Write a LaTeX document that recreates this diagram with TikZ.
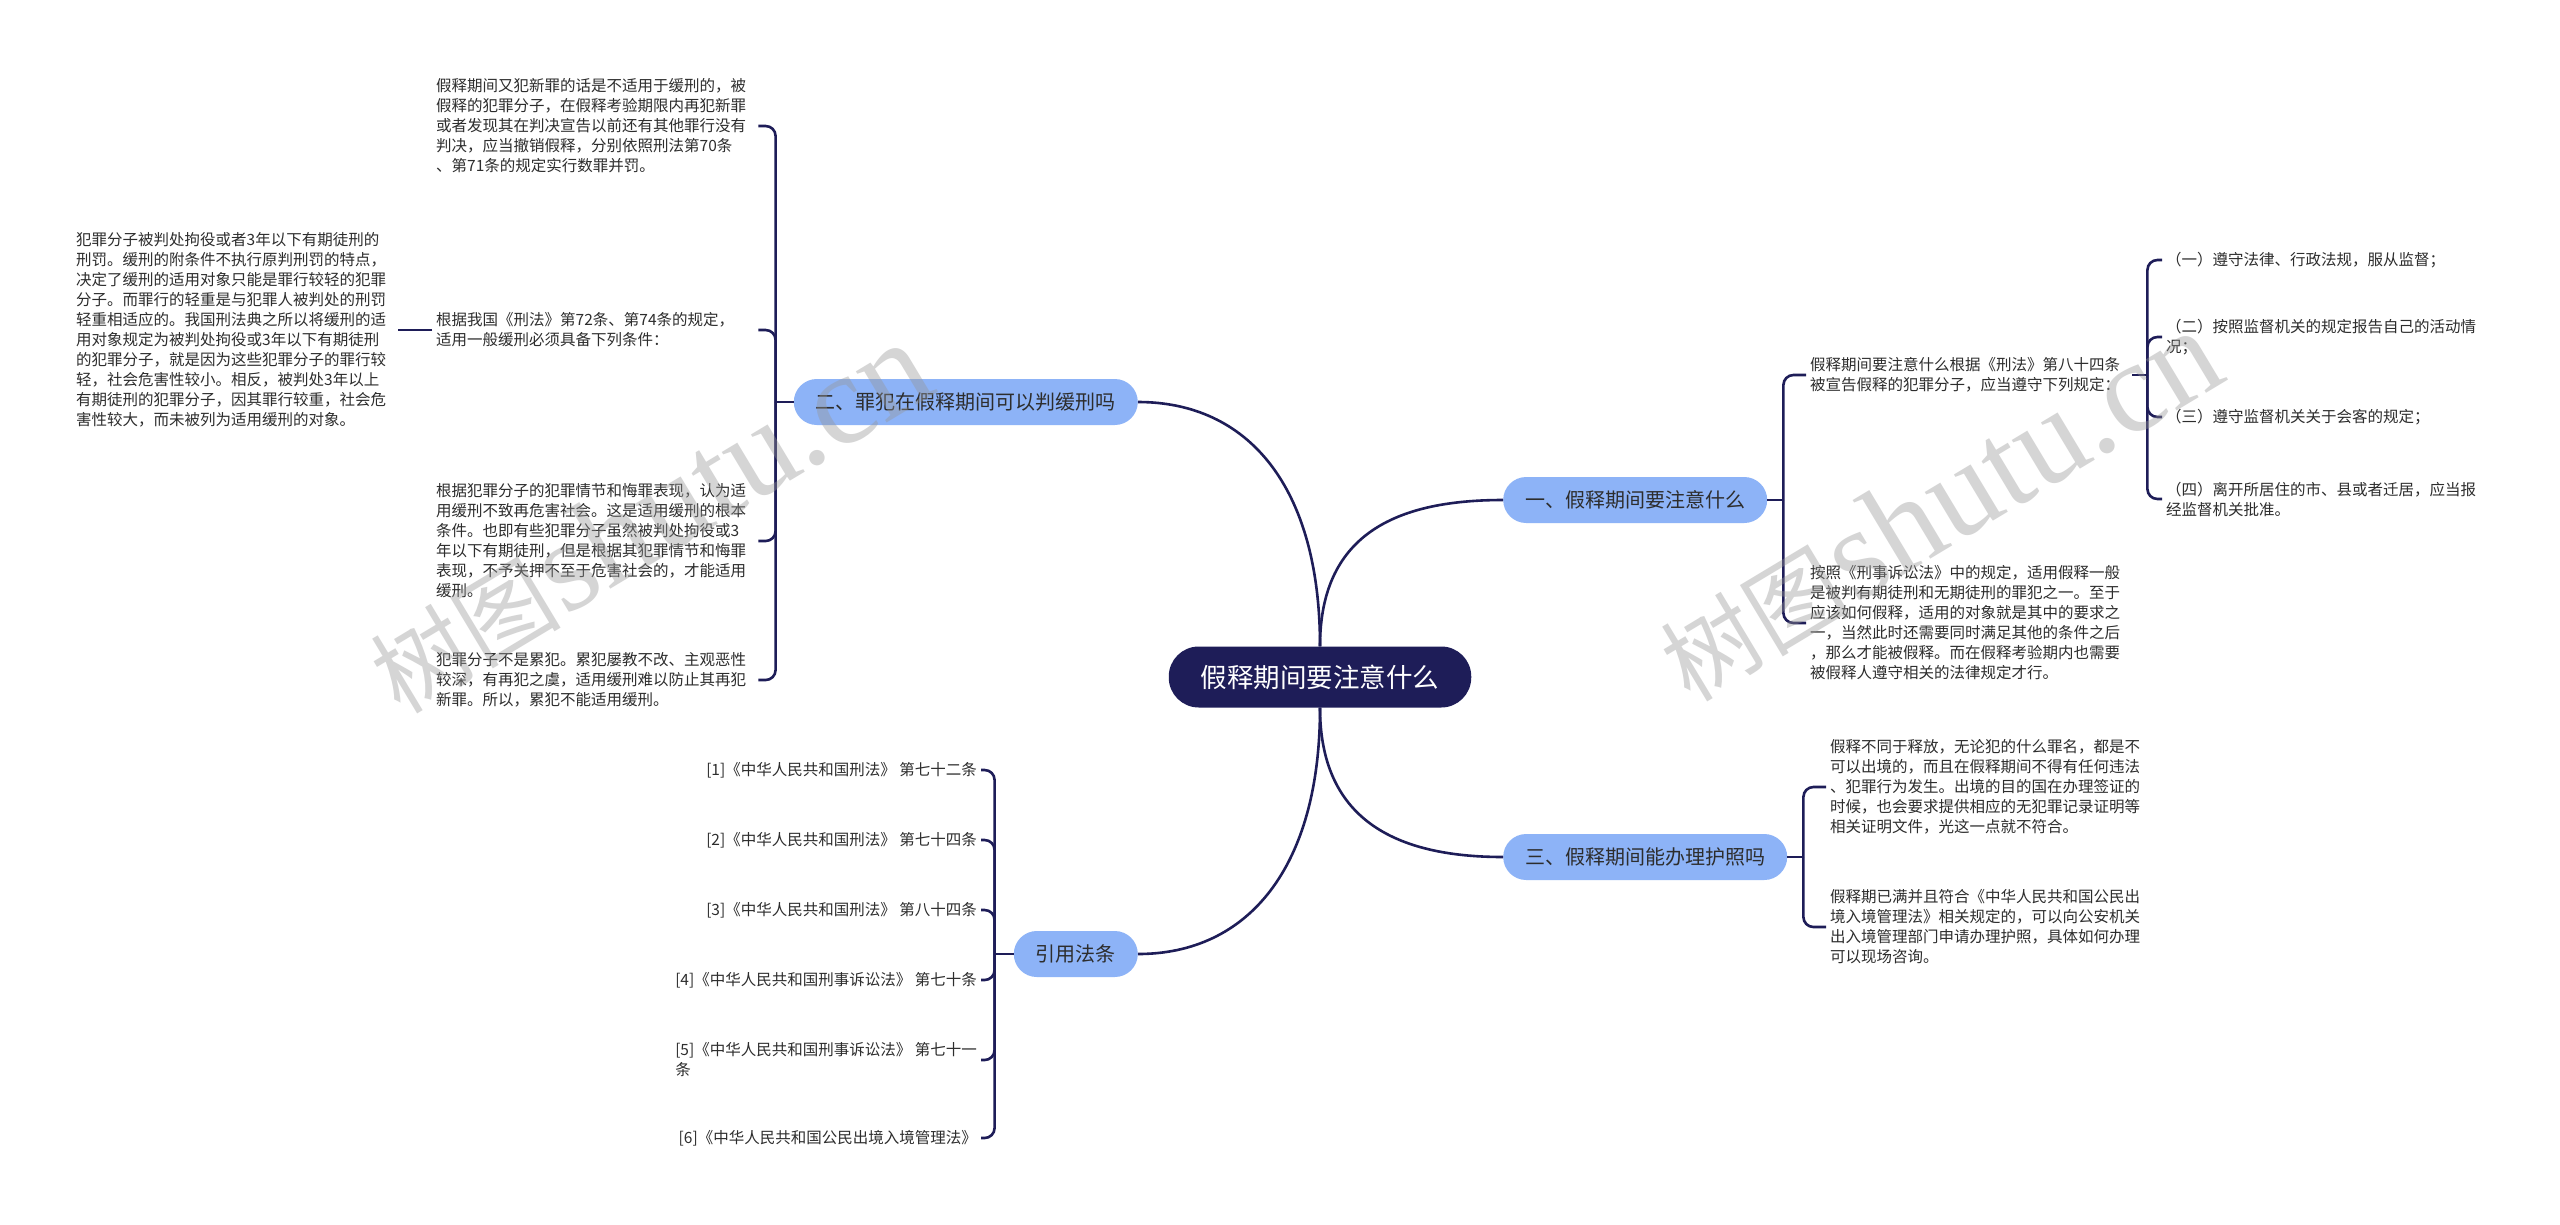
\documentclass[tikz,border=0pt]{standalone}
\usepackage{fontspec}
\setmainfont{Noto Sans CJK SC}
\newfontfamily\wmserif{Liberation Serif}
\usepackage{tikz}
\usetikzlibrary{positioning}
\definecolor{RootNavy}{RGB}{30,29,88}
\definecolor{PillBlue}{RGB}{141,179,247}
\definecolor{TextGray}{RGB}{45,45,45}
\definecolor{MarkGray}{RGB}{150,150,150}

\begin{document}
\begin{tikzpicture}[x=1pt, y=-1pt,
	rootnode/.style={fill=RootNavy, text=white, rounded corners=30pt, minimum height=61pt, inner xsep=32pt, font=\fontsize{26.5}{30}\selectfont},
	topic/.style={fill=PillBlue, text=TextGray, rounded corners=23pt, minimum height=46pt, inner xsep=22pt, font=\fontsize{20}{24}\selectfont},
	leaf/.style={text=TextGray, align=left, inner sep=4pt, font=\fontsize{15.5}{20}\selectfont},
	wideleaf/.style={leaf, text width=318pt},
	link/.style={draw=RootNavy, line width=2.6pt},
	brace/.style={link, rounded corners=10pt},
	watermark/.style={text=MarkGray, text opacity=0.4, rotate=31}
]
	\path[use as bounding box, fill=white] (0,0) rectangle (2560,1224);

	\node[rootnode] (root) at (1320,677) {假释期间要注意什么};

	\node[topic, anchor=east] (law2) at (1138,402) {二、罪犯在假释期间可以判缓刑吗};
	\node[topic, anchor=west] (law1) at (1503,500) {一、假释期间要注意什么};
	\node[topic, anchor=west] (law3) at (1503,857) {三、假释期间能办理护照吗};
	\node[topic, anchor=east] (cite) at (1138,954) {引用法条};

	\node[wideleaf, anchor=west] (l2a) at (432,126) {假释期间又犯新罪的话是不适用于缓刑的，被\\假释的犯罪分子，在假释考验期限内再犯新罪\\或者发现其在判决宣告以前还有其他罪行没有\\判决，应当撤销假释，分别依照刑法第70条\\、第71条的规定实行数罪并罚。};
	\node[wideleaf, anchor=west] (l2b) at (432,330) {根据我国《刑法》第72条、第74条的规定，\\适用一般缓刑必须具备下列条件：};
	\node[wideleaf, anchor=west] (l2c) at (432,541) {根据犯罪分子的犯罪情节和悔罪表现，认为适\\用缓刑不致再危害社会。这是适用缓刑的根本\\条件。也即有些犯罪分子虽然被判处拘役或3\\年以下有期徒刑，但是根据其犯罪情节和悔罪\\表现，不予关押不至于危害社会的，才能适用\\缓刑。};
	\node[wideleaf, anchor=west] (l2d) at (432,680) {犯罪分子不是累犯。累犯屡教不改、主观恶性\\较深，有再犯之虞，适用缓刑难以防止其再犯\\新罪。所以，累犯不能适用缓刑。};
	\node[wideleaf, anchor=west] (l2b1) at (72,330) {犯罪分子被判处拘役或者3年以下有期徒刑的\\刑罚。缓刑的附条件不执行原判刑罚的特点，\\决定了缓刑的适用对象只能是罪行较轻的犯罪\\分子。而罪行的轻重是与犯罪人被判处的刑罚\\轻重相适应的。我国刑法典之所以将缓刑的适\\用对象规定为被判处拘役或3年以下有期徒刑\\的犯罪分子，就是因为这些犯罪分子的罪行较\\轻，社会危害性较小。相反，被判处3年以上\\有期徒刑的犯罪分子，因其罪行较重，社会危\\害性较大，而未被列为适用缓刑的对象。};

	\node[wideleaf, anchor=west] (l1a) at (1806,375) {假释期间要注意什么根据《刑法》第八十四条\\被宣告假释的犯罪分子，应当遵守下列规定：};
	\node[wideleaf, anchor=west] (l1b) at (1806,623) {按照《刑事诉讼法》中的规定，适用假释一般\\是被判有期徒刑和无期徒刑的罪犯之一。至于\\应该如何假释，适用的对象就是其中的要求之\\一，当然此时还需要同时满足其他的条件之后\\，那么才能被假释。而在假释考验期内也需要\\被假释人遵守相关的法律规定才行。};
	\node[leaf, anchor=west] (l1a1) at (2162,260) {（一）遵守法律、行政法规，服从监督；};
	\node[leaf, anchor=west] (l1a2) at (2162,337) {（二）按照监督机关的规定报告自己的活动情\\况；};
	\node[leaf, anchor=west] (l1a3) at (2162,417) {（三）遵守监督机关关于会客的规定；};
	\node[leaf, anchor=west] (l1a4) at (2162,499) {（四）离开所居住的市、县或者迁居，应当报\\经监督机关批准。};

	\node[wideleaf, anchor=west] (l3a) at (1826,787) {假释不同于释放，无论犯的什么罪名，都是不\\可以出境的，而且在假释期间不得有任何违法\\、犯罪行为发生。出境的目的国在办理签证的\\时候，也会要求提供相应的无犯罪记录证明等\\相关证明文件，光这一点就不符合。};
	\node[wideleaf, anchor=west] (l3b) at (1826,927) {假释期已满并且符合《中华人民共和国公民出\\境入境管理法》相关规定的，可以向公安机关\\出入境管理部门申请办理护照，具体如何办理\\可以现场咨询。};

	\node[leaf, align=right, anchor=east] (c1) at (981,770) {[1]《中华人民共和国刑法》 第七十二条};
	\node[leaf, align=right, anchor=east] (c2) at (981,840) {[2]《中华人民共和国刑法》 第七十四条};
	\node[leaf, align=right, anchor=east] (c3) at (981,910) {[3]《中华人民共和国刑法》 第八十四条};
	\node[leaf, align=right, anchor=east] (c4) at (981,980) {[4]《中华人民共和国刑事诉讼法》 第七十条};
	\node[leaf, anchor=east] (c5) at (981,1060) {[5]《中华人民共和国刑事诉讼法》 第七十一\\条};
	\node[leaf, align=right, anchor=east] (c6) at (981,1138) {[6]《中华人民共和国公民出境入境管理法》};

	\draw[link] (root.north) .. controls +(0,-160) and +(110,0) .. (law2.east);
	\draw[link] (root.north) .. controls +(0,-110) and +(-110,0) .. (law1.west);
	\draw[link] (root.south) .. controls +(0,110) and +(-110,0) .. (law3.west);
	\draw[link] (root.south) .. controls +(0,160) and +(110,0) .. (cite.east);

	\coordinate[left=18pt of law2.west] (j2);
	\coordinate[right=16pt of law1.east] (j1);
	\coordinate[right=16pt of law3.east] (j3);
	\coordinate[left=19pt of cite.west] (j4);
	\coordinate[right=15pt of l1a.east] (j1a);

	\draw[link] (law2.west) -- (j2);
	\foreach \n in {l2a,l2b,l2c,l2d}
		\draw[brace] (j2) |- (\n.east);
	\draw[link] (l2b.west) -- (l2b1.east);

	\draw[link] (law1.east) -- (j1);
	\foreach \n in {l1a,l1b}
		\draw[brace] (j1) |- (\n.west);
	\draw[link] (l1a.east) -- (j1a);
	\foreach \n in {l1a1,l1a2,l1a3,l1a4}
		\draw[brace] (j1a) |- (\n.west);

	\draw[link] (law3.east) -- (j3);
	\foreach \n in {l3a,l3b}
		\draw[brace] (j3) |- (\n.west);

	\draw[link] (cite.west) -- (j4);
	\foreach \n in {c1,c2,c3,c4,c5,c6}
		\draw[brace] (j4) |- (\n.east);

	\node[watermark] (wm1) at (649,518) {{\fontsize{95}{95}\selectfont 树图} {\wmserif\fontsize{130}{130}\selectfont shutu.cn}};
	\node[watermark] (wm2) at (1939,506) {{\fontsize{95}{95}\selectfont 树图} {\wmserif\fontsize{130}{130}\selectfont shutu.cn}};
\end{tikzpicture}
\end{document}
